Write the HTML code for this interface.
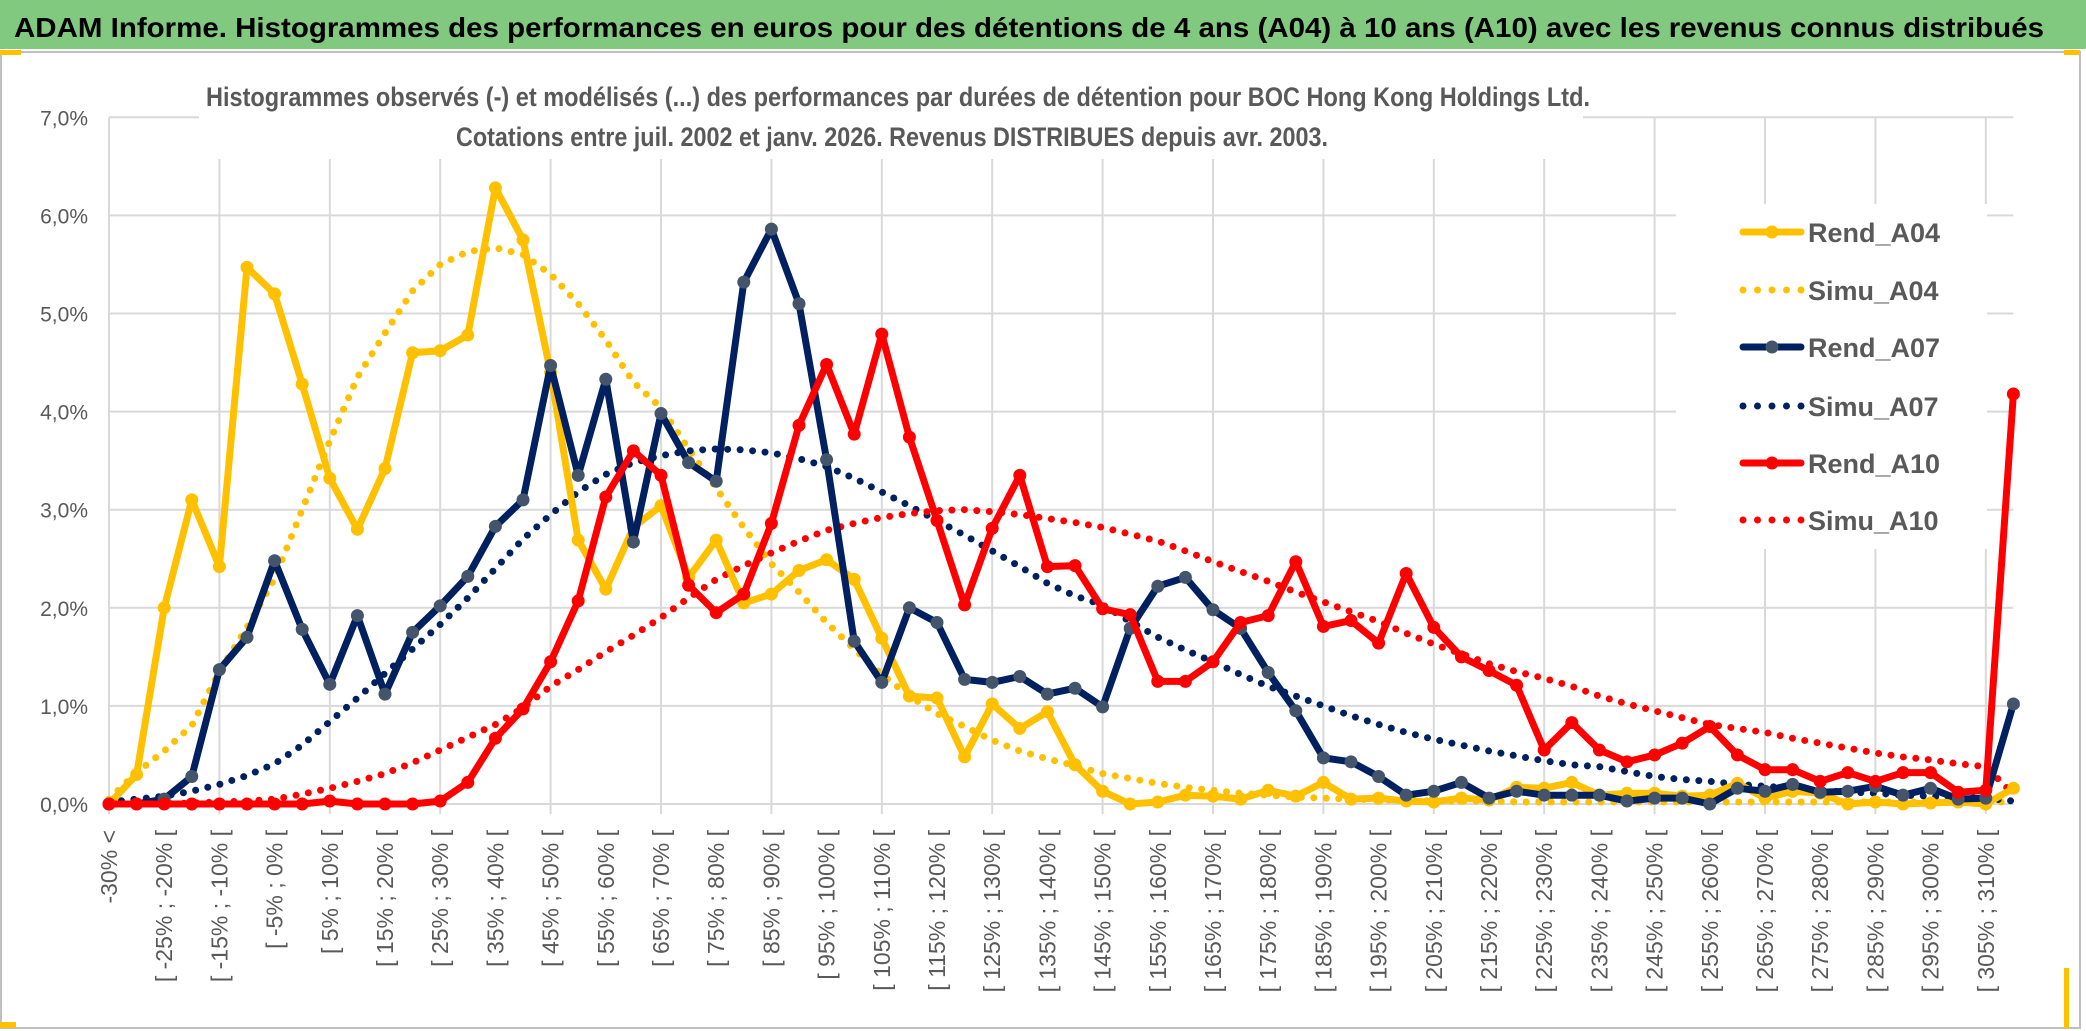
<!DOCTYPE html>
<html><head><meta charset="utf-8"><style>
html,body{margin:0;padding:0;background:#fff;}
svg{display:block;font-family:"Liberation Sans",sans-serif;}
</style></head><body>
<svg id="chart" width="2086" height="1031" viewBox="0 0 2086 1031" xmlns="http://www.w3.org/2000/svg">
<rect x="0" y="0" width="2086" height="1031" fill="#fff"/>
<rect x="0" y="0" width="2086" height="49" fill="#80c97f"/>
<text x="14" y="37" font-size="28" font-weight="bold" fill="#000" textLength="2030" lengthAdjust="spacingAndGlyphs">ADAM Informe. Histogrammes des performances en euros pour des détentions de 4 ans (A04) à 10 ans (A10) avec les revenus connus distribués</text>
<rect x="1" y="52" width="2079" height="976" fill="none" stroke="#bfbfbf" stroke-width="2"/>
<rect x="0" y="50" width="21" height="5" fill="#ffc000"/>
<rect x="2064" y="50" width="16" height="5" fill="#ffc000"/>
<rect x="0" y="1022" width="16" height="6" fill="#ffc000"/>
<rect x="2064" y="968" width="5" height="60" fill="#ffc000"/>
<g id="grid"></g>
<g id="yaxis"></g>
<g id="xaxis"></g>
<rect x="199" y="60" width="1384" height="99" fill="#fff"/>
<text x="206" y="106" font-size="27" font-weight="bold" fill="#595959" textLength="1384" lengthAdjust="spacingAndGlyphs">Histogrammes observés (-) et modélisés (...) des performances par durées de détention pour BOC Hong Kong Holdings Ltd.</text>
<text x="456" y="146" font-size="27" font-weight="bold" fill="#595959" textLength="872" lengthAdjust="spacingAndGlyphs">Cotations entre juil. 2002 et janv. 2026. Revenus DISTRIBUES depuis avr. 2003.</text>
<g id="series"></g>
<rect x="1676" y="204" width="311" height="345" fill="#fff"/>
<g id="legend"></g>
</svg>
<script>
const rendA04 = [0,0.3,2.0,3.1,2.42,5.47,5.2,4.28,3.32,2.8,3.42,4.6,4.62,4.78,6.28,5.75,4.4,2.69,2.19,2.82,3.04,2.31,2.69,2.05,2.14,2.38,2.49,2.29,1.69,1.1,1.08,0.48,1.02,0.77,0.94,0.4,0.13,0,0.02,0.09,0.08,0.05,0.14,0.08,0.22,0.05,0.06,0.03,0.02,0.06,0.04,0.17,0.16,0.22,0.09,0.11,0.11,0.08,0.09,0.21,0.06,0.13,0.11,0,0.02,0,0.01,0.02,0,0.16];
const simuA04 = [0.05,0.32,0.54,0.8,1.35,1.8,2.3,3.0,3.7,4.35,4.8,5.23,5.5,5.63,5.67,5.6,5.4,5.1,4.73,4.3,4.04,3.62,3.22,2.82,2.45,2.16,1.85,1.58,1.32,1.1,0.92,0.79,0.65,0.54,0.46,0.39,0.31,0.26,0.21,0.17,0.14,0.11,0.09,0.07,0.06,0.05,0.04,0.04,0.03,0.03,0.03,0.02,0.02,0.02,0.02,0.02,0.02,0.02,0.02,0.02,0.02,0.02,0.02,0.02,0.02,0.02,0.02,0.02,0.02,0.02];
const rendA07 = [0,0,0.05,0.28,1.37,1.7,2.48,1.78,1.22,1.92,1.12,1.75,2.02,2.32,2.83,3.1,4.47,3.35,4.33,2.67,3.98,3.48,3.29,5.32,5.86,5.1,3.51,1.66,1.24,2.0,1.85,1.27,1.24,1.3,1.12,1.18,0.99,1.79,2.22,2.31,1.98,1.79,1.34,0.95,0.47,0.43,0.28,0.09,0.13,0.22,0.06,0.13,0.09,0.09,0.09,0.03,0.06,0.06,0,0.16,0.13,0.2,0.12,0.13,0.18,0.09,0.16,0.05,0.06,1.02];
const simuA07 = [0.02,0.05,0.08,0.13,0.2,0.29,0.41,0.6,0.84,1.08,1.33,1.58,1.83,2.1,2.4,2.7,2.95,3.18,3.36,3.48,3.55,3.6,3.62,3.61,3.58,3.52,3.44,3.32,3.18,3.04,2.89,2.74,2.58,2.42,2.25,2.12,2.03,1.86,1.7,1.57,1.45,1.32,1.2,1.1,1.0,0.9,0.81,0.73,0.66,0.6,0.54,0.49,0.44,0.4,0.38,0.33,0.28,0.25,0.23,0.2,0.18,0.16,0.14,0.12,0.11,0.09,0.08,0.07,0.06,0.03];
const rendA10 = [0,0,0,0,0,0,0,0,0.03,0,0,0,0.03,0.22,0.67,0.97,1.45,2.07,3.13,3.6,3.35,2.23,1.95,2.14,2.86,3.86,4.48,3.77,4.79,3.74,2.89,2.03,2.81,3.35,2.42,2.43,1.99,1.93,1.25,1.25,1.45,1.85,1.92,2.47,1.81,1.87,1.64,2.35,1.8,1.5,1.36,1.21,0.55,0.83,0.55,0.43,0.5,0.62,0.79,0.5,0.35,0.35,0.23,0.32,0.23,0.32,0.32,0.12,0.14,4.18];
const simuA10 = [0,0,0,0.01,0.02,0.03,0.05,0.1,0.16,0.23,0.31,0.42,0.55,0.68,0.81,0.98,1.2,1.37,1.55,1.72,1.9,2.1,2.29,2.43,2.56,2.68,2.79,2.86,2.92,2.96,2.99,3.0,2.98,2.95,2.91,2.87,2.82,2.75,2.68,2.58,2.47,2.37,2.27,2.16,2.06,1.96,1.86,1.74,1.63,1.53,1.43,1.35,1.28,1.2,1.1,1.02,0.95,0.88,0.81,0.77,0.73,0.67,0.62,0.57,0.52,0.48,0.45,0.41,0.38,0.1];
const yTicks = ["0,0%","1,0%","2,0%","3,0%","4,0%","5,0%","6,0%","7,0%"];
const legendNames = ["Rend_A04","Simu_A04","Rend_A07","Simu_A07","Rend_A10","Simu_A10"];

const NS = "http://www.w3.org/2000/svg";
const X0 = 109, STEP = 27.6, Y0 = 804, YPER = 98.1;
const N = rendA04.length;
function xs(i){ return X0 + i*STEP; }
function ys(v){ return Y0 - v*YPER; }
function mk(tag, attrs, parent){
  const e = document.createElementNS(NS, tag);
  for (const k in attrs) e.setAttribute(k, attrs[k]);
  parent.appendChild(e); return e;
}
function catLabel(i){
  if (i === 0) return "-30% <";
  const a = -30 + 5*(i-1);
  return "[ " + a + "% ; " + (a+5) + "% [";
}
const grid = document.getElementById('grid');
const xRight = xs(N-1);
for (let t = 0; t < yTicks.length; t++){
  const l = mk('line', {x1:X0, x2:xRight, y1:ys(t), y2:ys(t), stroke:'#d9d9d9', 'stroke-width':2}, grid);
  
  
}
for (let i = 0; i < N; i += 4){
  const l = mk('line', {x1:xs(i), x2:xs(i), y1:ys(7), y2:Y0+10, stroke:'#d9d9d9', 'stroke-width':2}, grid);
  
  
}
const yaxis = document.getElementById('yaxis');
yTicks.forEach((lab, t) => {
  const e = mk('text', {x:88, y:ys(t)+8, 'font-size':21, fill:'#595959', 'text-anchor':'end'}, yaxis);
  
  
  e.textContent = lab;
});
const xaxis = document.getElementById('xaxis');
for (let i = 0; i < N-1; i += 2){
  const x = xs(i) + 8, y = 830;
  const e = mk('text', {x:x, y:y, 'font-size':23, fill:'#595959', 'text-anchor':'end', transform:'rotate(-90 '+x+' '+y+')'}, xaxis);
  
  
  e.textContent = catLabel(i);
}
const series = document.getElementById('series');
function pathD(arr){ return arr.map((v,i)=>(i?'L':'M')+xs(i).toFixed(1)+' '+ys(v).toFixed(1)).join(' '); }
function dotted(arr, color, name){
  const p = mk('path', {d:pathD(arr), fill:'none', stroke:color, 'stroke-width':7, 'stroke-linecap':'round', 'stroke-dasharray':'0 12.5'}, series);
  
  
}
function solid(arr, color, mcolor, name){
  const g = mk('g', {}, series);
  
  
  const p = mk('path', {d:pathD(arr), fill:'none', stroke:color, 'stroke-width':7, 'stroke-linejoin':'round', 'stroke-linecap':'round'}, g);
  
  
  arr.forEach((v,i)=>{
    const c = mk('circle', {cx:xs(i), cy:ys(v), r:6.5, fill:mcolor}, g);
    
    
  });
}
dotted(simuA04, '#ffc000', 'simu-a04-line');
dotted(simuA07, '#002060', 'simu-a07-line');
dotted(simuA10, '#ff0000', 'simu-a10-line');
solid(rendA04, '#ffc000', '#ffc000', 'rend-a04');
solid(rendA07, '#002060', '#44546a', 'rend-a07');
solid(rendA10, '#ff0000', '#ff0000', 'rend-a10');

const legend = document.getElementById('legend');
const legStyle = [
  {c:'#ffc000', m:'#ffc000', dot:false},
  {c:'#ffc000', dot:true},
  {c:'#002060', m:'#44546a', dot:false},
  {c:'#002060', dot:true},
  {c:'#ff0000', m:'#ff0000', dot:false},
  {c:'#ff0000', dot:true}
];
const legY = [232, 290, 347, 406, 463, 520];
legendNames.forEach((nm, k) => {
  const g = mk('g', {}, legend);
  
  
  const y = legY[k], s = legStyle[k];
  if (s.dot){
    mk('line', {x1:1743, x2:1803, y1:y, y2:y, stroke:s.c, 'stroke-width':7, 'stroke-linecap':'round', 'stroke-dasharray':'0 14.5'}, g);
  } else {
    mk('line', {x1:1743, x2:1801, y1:y, y2:y, stroke:s.c, 'stroke-width':7, 'stroke-linecap':'round'}, g);
    mk('circle', {cx:1772, cy:y, r:6.5, fill:s.m}, g);
  }
  const t = mk('text', {x:1808, y:y+10, 'font-size':27, 'font-weight':'600', fill:'#595959'}, g);
  t.textContent = nm;
});
</script>
</body></html>
